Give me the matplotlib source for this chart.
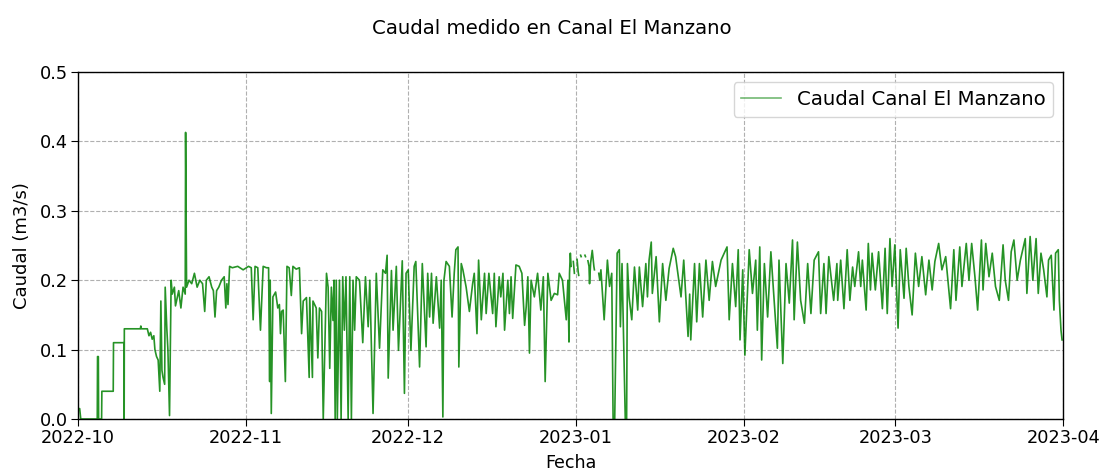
import numpy as np
import pandas as pd
import matplotlib
matplotlib.use("Agg")
import matplotlib.pyplot as plt
import matplotlib.dates as mdates

nan = np.nan

dias_oct = [0, 0.3, 0.5, 3.55, 3.6, 3.75, 3.8, 4.35, 4.4, 6.5, 6.55, 8.5, 8.52, 8.55,
            11.5, 11.6, 11.7, 12.8, 13.1, 13.4, 13.7, 14.0, 14.2, 14.5, 14.8, 15.1, 15.3,
            15.5, 15.7, 16.0, 16.1, 16.4, 16.6, 16.9, 17.2, 17.4, 17.8, 18.0, 18.6, 19.0,
            19.4, 19.8, 19.87, 20.05, 20.5, 21.0, 21.5, 22.0, 22.5, 23.0, 23.4, 23.7, 24.2,
            24.7, 25.0, 25.3, 25.6, 26.0, 26.5, 27.0, 27.3, 27.5, 27.7, 28.0, 28.5, 29.5,
            30.5, 31.5, 32.0, 32.35, 32.7, 33.2, 33.7, 34.2, 34.8]
q_oct = [0.015, 0.015, 0, 0, 0.09, 0.09, 0, 0, 0.04, 0.04, 0.11, 0.11, 0, 0.13,
         0.13, 0.134, 0.13, 0.13, 0.12, 0.125, 0.115, 0.12, 0.10, 0.09, 0.085, 0.04, 0.17,
         0.07, 0.06, 0.05, 0.19, 0.13, 0.10, 0.005, 0.20, 0.18, 0.19, 0.163, 0.185, 0.16,
         0.19, 0.18, 0.413, 0.19, 0.20, 0.195, 0.21, 0.19, 0.20, 0.195, 0.155, 0.20, 0.205,
         0.19, 0.185, 0.147, 0.185, 0.19, 0.20, 0.205, 0.16, 0.195, 0.165, 0.22, 0.218, 0.22,
         0.215, 0.22, 0.218, 0.143, 0.22, 0.218, 0.128, 0.22, 0.218]

dias_nov = [35.2, 35.4, 35.5, 35.7, 36.0, 36.5, 36.9, 37.2, 37.4, 37.6, 37.9, 38.3, 38.6,
            39.0, 39.4, 39.7, 40.3, 40.9, 41.3, 41.6, 42.2, 42.7, 42.8, 43.3, 43.4, 43.7,
            44.0, 44.3, 44.6, 45.0, 45.3, 45.9, 46.2, 46.5, 46.8, 47.1, 47.3, 47.5, 47.7,
            47.9, 48.3, 48.6, 48.9, 49.2, 49.5, 49.9, 50.2, 50.5, 50.8, 51.1, 51.4, 52.0,
            52.6, 53.1, 53.6, 53.9, 54.5, 55.1, 55.7, 56.3, 56.8, 57.1, 57.3, 57.9, 58.2,
            58.8, 59.2, 59.9, 60.3, 60.6]
q_nov = [0.218, 0.054, 0.2, 0.008, 0.176, 0.183, 0.16, 0.165, 0.123, 0.155, 0.157, 0.054, 0.22,
         0.218, 0.178, 0.22, 0.216, 0.218, 0.123, 0.17, 0.175, 0.06, 0.175, 0.06, 0.17, 0.165,
         0.16, 0.088, 0.16, 0.155, 0.0, 0.21, 0.19, 0.073, 0.19, 0.142, 0.2, 0.0, 0.2,
         0.0, 0.2, 0.0, 0.205, 0.128, 0.205, 0.0, 0.205, 0.0, 0.2, 0.128, 0.205, 0.2,
         0.11, 0.205, 0.133, 0.2, 0.008, 0.21, 0.102, 0.215, 0.21, 0.236, 0.059, 0.214, 0.128,
         0.22, 0.099, 0.228, 0.037, 0.21]

dias_dic = [61.0, 61.5, 62.1, 62.4, 63.1, 63.6, 64.3, 64.6, 64.95, 65.3, 65.6, 66.2, 66.8,
            67.1, 67.4, 67.6, 68.0, 68.6, 69.1, 69.5, 69.8, 70.2, 70.35, 70.8, 71.1, 71.7,
            72.3, 72.9, 73.2, 73.7, 74.0, 74.5, 75.1, 75.4, 75.9, 76.3, 76.6, 76.9, 77.2,
            77.8, 78.1, 78.5, 78.8, 79.4, 79.7, 80.0, 80.3, 80.9, 81.5, 82.0, 82.5, 82.8,
            83.1, 83.4, 83.7, 84.3, 84.9, 85.5, 85.96, 86.3, 86.8, 87.4, 88.0, 88.6, 88.9,
            89.5, 89.8, 90.2, 90.5, 90.7, 90.8, 90.95, 91.1, 91.3, 91.5, 91.7, 91.9, 92.2,
            92.4, 92.5, 92.7, 92.85, 92.95, 93.2, 93.65, 93.75, 93.9, 94.2, 94.4, 94.5, 94.7,
            95.0, 95.3, 95.4, 95.6, 96.2, 96.4]
q_dic = [0.215, 0.099, 0.22, 0.227, 0.075, 0.224, 0.104, 0.21, 0.147, 0.21, 0.138, 0.205, 0.131,
         0.2, 0.003, 0.2, 0.227, 0.22, 0.147, 0.21, 0.244, 0.248, 0.075, 0.224, 0.215, 0.19,
         0.155, 0.195, 0.21, 0.123, 0.229, 0.143, 0.21, 0.152, 0.21, 0.176, 0.152, 0.21, 0.133,
         0.205, 0.176, 0.21, 0.128, 0.2, 0.152, 0.205, 0.145, 0.222, 0.22, 0.21, 0.135, 0.162,
         0.205, 0.095, 0.2, 0.176, 0.21, 0.157, 0.205, 0.054, 0.21, 0.171, 0.181, 0.179, 0.21,
         0.2, 0.176, 0.143, 0.2, 0.111, 0.21, 0.239, 0.22, nan, 0.227, 0.21, nan, 0.23,
         0.212, 0.207, nan, 0.236, 0.234, nan, 0.236, 0.234, nan, 0.228, 0.22, 0.195, 0.225,
         0.243, 0.22, 0.215, nan, 0.21, 0.2]

dias_ene_feb = [96.6, 97.2, 97.8, 98.2, 98.6, 98.85, 99.15, 99.6, 100.0, 100.2, 100.5, 101.1,
                101.35, 101.5, 101.8, 102.3, 102.8, 103.4, 103.7, 104.3, 104.9, 105.2, 105.5,
                105.9, 106.1, 106.8, 107.4, 108.0, 108.6, 109.2, 109.96, 110.4, 111.4, 111.9,
                112.7, 113.0, 113.2, 113.9, 114.3, 114.8, 115.4, 116.0, 116.6, 117.2, 117.8,
                118.8, 119.9, 120.3, 120.9, 121.5, 121.97, 122.3, 122.8, 123.2, 124.0, 124.6,
                125.2, 125.5, 125.95, 126.3, 126.8, 127.4, 128.0, 128.6, 129.2, 129.5, 130.2,
                130.8, 131.4, 132.0, 132.3, 132.9, 133.5, 134.2, 134.8, 135.4, 136.0, 136.8,
                137.2, 137.8, 138.2, 138.7, 139.6, 140.2]
q_ene_feb = [0.215, 0.143, 0.229, 0.191, 0.21, 0.0, 0.0, 0.239, 0.244, 0.133, 0.224, 0.0,
             0.0, 0.224, 0.176, 0.143, 0.219, 0.157, 0.219, 0.162, 0.224, 0.176, 0.229,
             0.255, 0.181, 0.234, 0.14, 0.224, 0.171, 0.217, 0.246, 0.234, 0.176, 0.229,
             0.119, 0.18, 0.114, 0.224, 0.14, 0.224, 0.147, 0.229, 0.171, 0.227, 0.191,
             0.229, 0.248, 0.143, 0.224, 0.162, 0.244, 0.114, 0.215, 0.092, 0.244, 0.181,
             0.229, 0.128, 0.248, 0.085, 0.224, 0.147, 0.241, 0.171, 0.102, 0.229, 0.08,
             0.224, 0.167, 0.258, 0.143, 0.255, 0.171, 0.138, 0.224, 0.152, 0.229, 0.241,
             0.152, 0.224, 0.152, 0.234, 0.171, 0.224]

dias_mar = [140.35, 140.9, 141.5, 142.1, 142.6, 143.1, 143.5, 144.2, 144.6, 144.9, 145.6,
            146.0, 146.4, 146.7, 147.3, 147.9, 148.6, 149.1, 149.5, 150.0, 150.4, 150.9,
            151.5, 151.9, 152.6, 153.0, 153.5, 154.1, 154.7, 155.3, 155.9, 156.6, 157.2,
            157.8, 158.3, 159.0, 159.6, 160.3, 161.2, 161.8, 162.2, 162.9, 163.3, 164.1,
            164.6, 165.1, 165.7, 166.2, 166.9, 167.2, 167.7, 168.3, 168.9, 169.5, 170.2,
            170.9, 171.3, 171.9, 172.4, 172.9, 173.5, 174.1, 175.0, 175.3, 175.9, 176.4,
            177.0, 177.4, 177.9, 178.4, 179.0, 179.3, 179.8, 180.3, 180.6, 181.1, 181.3,
            181.6, 181.8]
q_mar = [0.171, 0.229, 0.159, 0.244, 0.171, 0.219, 0.191, 0.241, 0.191, 0.229, 0.157,
         0.253, 0.186, 0.239, 0.186, 0.241, 0.159, 0.246, 0.152, 0.26, 0.191, 0.251,
         0.131, 0.244, 0.174, 0.246, 0.191, 0.15, 0.239, 0.191, 0.234, 0.179, 0.229,
         0.186, 0.227, 0.253, 0.215, 0.234, 0.159, 0.244, 0.171, 0.248, 0.191, 0.253,
         0.2, 0.253, 0.205, 0.157, 0.258, 0.186, 0.253, 0.205, 0.239, 0.191, 0.171,
         0.251, 0.2, 0.171, 0.241, 0.258, 0.2, 0.229, 0.26, 0.181, 0.263, 0.2,
         0.26, 0.181, 0.239, 0.215, 0.176, 0.229, 0.236, 0.157, 0.239, 0.244, 0.171,
         0.128, 0.114]

inicio = pd.Timestamp("2022-10-01")
fin = pd.Timestamp("2023-04-01")

dias = np.array(dias_oct + dias_nov + dias_dic + dias_ene_feb + dias_mar, dtype=float)
caudal = np.array(q_oct + q_nov + q_dic + q_ene_feb + q_mar, dtype=float)
fechas = inicio + pd.to_timedelta(dias, unit="D")

fig = plt.figure(figsize=(11.04, 4.74), dpi=100)
ax = fig.add_axes([0.0707, 0.116, 0.8923, 0.732])

ax.plot(fechas, caudal, color="green", alpha=0.85, linewidth=1.2,
        label="Caudal Canal El Manzano")

ax.set_xlim(inicio, fin)
ax.set_ylim(0, 0.5)
ax.set_yticks([0.0, 0.1, 0.2, 0.3, 0.4, 0.5])
ax.xaxis.set_major_locator(mdates.MonthLocator())
ax.xaxis.set_major_formatter(mdates.DateFormatter("%Y-%m"))
ax.tick_params(axis="both", labelsize=12.8, length=5, pad=2.5)
ax.grid(True, linestyle="--", color="#b0b0b0", linewidth=0.8)
ax.set_xlabel("Fecha", fontsize=12.6, labelpad=4.5)
ax.set_ylabel("Caudal (m3/s)", fontsize=13, labelpad=6)
for s in ax.spines.values():
    s.set_linewidth(1.0)

leg = ax.legend(loc="upper right", fontsize=14.2, framealpha=0.8,
                borderaxespad=0.5)
for line in leg.get_lines():
    line.set_alpha(0.55)

fig.suptitle("Caudal medido en Canal El Manzano", fontsize=14.2, y=0.96)

fig.savefig("out.png", dpi=100)
